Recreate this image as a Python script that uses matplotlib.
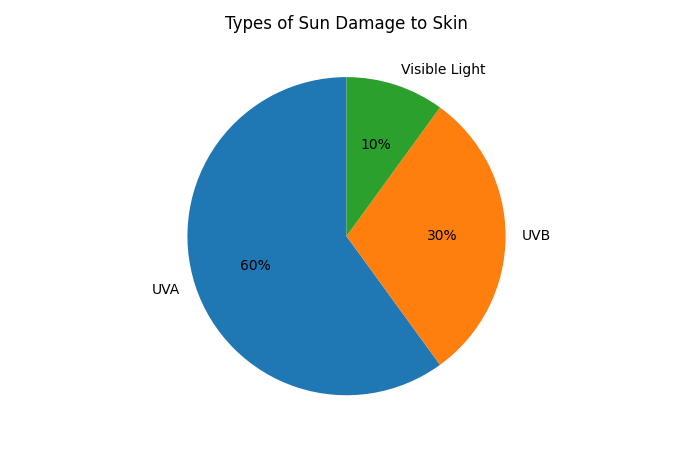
import matplotlib
matplotlib.use("Agg")
import matplotlib.pyplot as plt

labels = ["UVA", "UVB", "Visible Light"]
values = [60, 30, 10]
colors = ["#1f77b4", "#ff7f0e", "#2ca02c"]

fig, ax = plt.subplots(figsize=(7, 4.5), dpi=100)
ax.pie(values, labels=labels, colors=colors, autopct="%1.0f%%", startangle=90)
ax.set_title("Types of Sun Damage to Skin")
fig.tight_layout()
pos = ax.get_position()
ax.set_position([pos.x0 - 3.5 / 700, pos.y0, pos.width, pos.height])
fig.savefig("out.png")
